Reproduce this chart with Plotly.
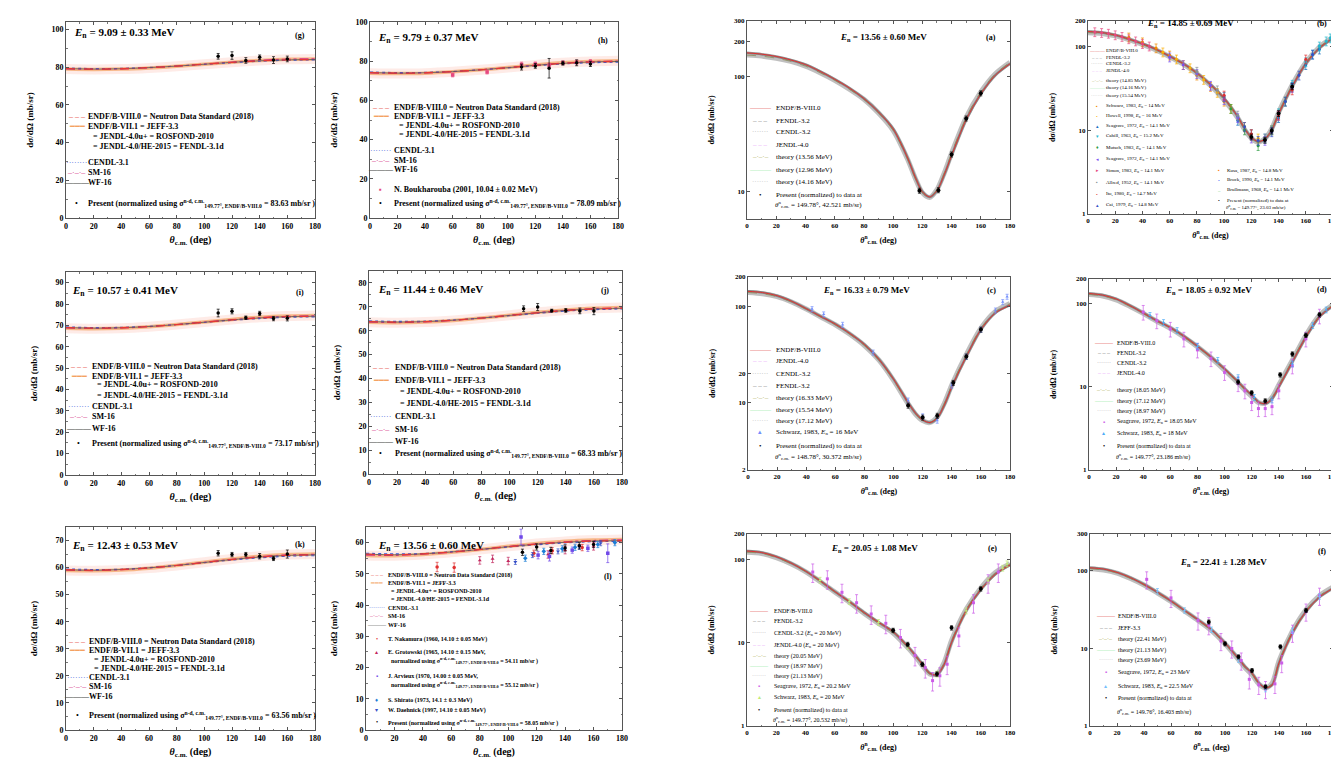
import math
import plotly.graph_objects as go

W, H = 1339, 759
SERIF = "Liberation Serif"

# ======================= DATA =======================
# ---- left panels (linear y) ----
th_l = [0, 20, 40, 60, 80, 100, 120, 140, 160, 180]
th_pres = [110, 120, 130, 140, 150, 160]

g_endf8 = [79.3, 79.0, 79.2, 79.8, 80.6, 81.6, 82.6, 83.4, 83.9, 84.1]
g_endf71 = [79.0, 78.8, 79.0, 79.6, 80.5, 81.6, 82.7, 83.6, 84.2, 84.4]
g_cendl = [79.6, 79.3, 79.4, 79.9, 80.6, 81.5, 82.4, 83.2, 83.7, 83.9]
g_sm16 = [79.1, 78.9, 79.1, 79.7, 80.6, 81.7, 82.8, 83.7, 84.3, 84.5]
g_pres = [85.8, 86.2, 83.6, 85.3, 83.8, 84.4]
g_perr = [1.5, 2.0, 1.5, 1.2, 1.8, 1.5]

h_endf8 = [74.2, 73.9, 74.1, 74.7, 75.6, 76.7, 77.9, 78.9, 79.6, 79.9]
h_endf71 = [73.9, 73.7, 73.9, 74.6, 75.6, 76.8, 78.1, 79.2, 79.9, 80.2]
h_cendl = [74.5, 74.2, 74.3, 74.8, 75.6, 76.6, 77.7, 78.6, 79.2, 79.5]
h_sm16 = [74.0, 73.8, 74.0, 74.6, 75.6, 76.8, 78.0, 79.1, 79.8, 80.1]
h_bouk_th = [60, 85, 110, 120, 130, 140, 150, 160]
h_bouk = [73.0, 74.5, 78.3, 78.6, 78.0, 79.2, 79.5, 79.8]
h_bouk_err = [1.0, 1.0, 1.2, 1.0, 1.0, 1.0, 1.0, 1.0]
h_pres = [77.0, 77.6, 76.4, 79.0, 79.2, 78.6]
h_perr = [1.5, 1.2, 5.0, 1.0, 1.5, 1.3]

i_endf8 = [69.0, 68.7, 68.9, 69.5, 70.4, 71.5, 72.6, 73.5, 74.1, 74.3]
i_endf71 = [68.7, 68.5, 68.7, 69.4, 70.4, 71.6, 72.8, 73.8, 74.4, 74.7]
i_cendl = [69.3, 69.0, 69.1, 69.6, 70.4, 71.4, 72.4, 73.2, 73.8, 74.0]
i_sm16 = [68.8, 68.6, 68.8, 69.4, 70.4, 71.6, 72.7, 73.7, 74.3, 74.5]
i_pres = [75.8, 76.6, 73.6, 75.6, 73.2, 73.3]
i_perr = [1.8, 1.2, 0.8, 1.0, 1.0, 1.2]

j_endf8 = [63.8, 63.6, 63.8, 64.4, 65.3, 66.4, 67.5, 68.5, 69.1, 69.4]
j_endf71 = [63.5, 63.3, 63.6, 64.3, 65.3, 66.5, 67.7, 68.7, 69.4, 69.7]
j_cendl = [64.1, 63.9, 64.0, 64.5, 65.3, 66.3, 67.3, 68.2, 68.8, 69.1]
j_sm16 = [63.6, 63.4, 63.7, 64.3, 65.3, 66.5, 67.6, 68.6, 69.3, 69.6]
j_pres = [69.2, 69.9, 68.4, 68.5, 68.3, 68.2]
j_perr = [1.2, 1.5, 0.6, 0.8, 1.2, 1.5]

k_endf8 = [59.2, 59.0, 59.3, 59.9, 60.8, 61.9, 63.0, 63.9, 64.5, 64.7]
k_endf71 = [58.9, 58.8, 59.1, 59.8, 60.8, 62.0, 63.2, 64.2, 64.8, 65.0]
k_cendl = [59.5, 59.3, 59.4, 60.0, 60.8, 61.8, 62.8, 63.6, 64.2, 64.4]
k_sm16 = [59.0, 58.9, 59.2, 59.8, 60.8, 62.0, 63.1, 64.1, 64.7, 64.9]
k_pres = [65.3, 64.8, 64.8, 64.2, 63.4, 65.0]
k_perr = [1.0, 0.8, 0.8, 1.0, 0.8, 1.5]

l_endf8 = [56.3, 56.1, 56.4, 57.0, 57.8, 58.7, 59.5, 60.1, 60.5, 60.6]
l_endf71 = [55.9, 55.8, 56.2, 56.9, 57.8, 58.8, 59.7, 60.4, 60.8, 61.0]
l_cendl = [56.6, 56.4, 56.5, 57.1, 57.8, 58.6, 59.3, 59.9, 60.3, 60.4]
l_sm16 = [56.0, 55.9, 56.3, 56.9, 57.8, 58.8, 59.6, 60.3, 60.7, 60.9]
l_naka_th = [50, 62, 118, 131, 152]
l_naka = [52.2, 52.0, 56.6, 57.4, 58.4]
l_naka_err = [1.5, 1.5, 1.0, 1.0, 1.0]
l_grot_th = [80, 89, 100, 128, 140, 160]
l_grot = [54.3, 54.8, 54.1, 56.2, 57.6, 58.8]
l_grot_err = [1.2, 1.2, 1.2, 1.2, 1.2, 1.2]
l_arv_th = [109, 121, 129, 145, 156, 170]
l_arv = [61.8, 56.0, 55.6, 57.6, 58.2, 56.6]
l_arv_err = [2.5, 1.2, 1.5, 1.0, 1.0, 3.0]
l_shir_th = [112, 125, 138, 147, 163, 175]
l_shir = [55.0, 57.2, 58.0, 58.5, 59.4, 60.0]
l_shir_err = [1.0, 1.0, 1.0, 1.0, 1.0, 1.0]
l_daeh_th = [105, 117, 135, 150, 165]
l_daeh = [53.8, 56.0, 57.2, 58.6, 59.8]
l_daeh_err = [0.8, 0.8, 0.8, 0.8, 0.8]
l_pres = [56.9, 58.6, 57.5, 58.3, 59.0, 59.4]
l_perr = [1.0, 1.0, 1.0, 1.0, 1.0, 1.0]

# ---- right panels (log y) ----
th_r = [0, 10, 20, 30, 40, 50, 60, 70, 80, 90, 100, 110, 115, 120, 125, 130, 135, 140, 150, 160, 170, 180]

a_endf8 = [159, 155, 148, 138, 126, 110, 94, 79, 64, 49, 35, 19.5, 13.5, 10.0, 9.0, 10.2, 14, 20.5, 42, 70, 102, 128]
a_theory = [152, 149, 143, 134, 122, 107, 92, 77, 63, 48, 34, 19, 13.2, 9.8, 8.9, 10.4, 14.5, 21.5, 44, 73, 105, 132]
a_pres_th = [118, 131, 140, 150, 160]
a_pres = [10.2, 10.3, 21, 43, 71]

b_endf8 = [150, 146, 136, 122, 107, 92, 76, 62, 48, 35, 24, 14.5, 10.5, 8.2, 7.3, 7.8, 10, 15.5, 33, 62, 95, 125]
b_theory = [145, 142, 133, 120, 105, 90, 75, 61, 47, 34, 23, 14, 10.2, 8.0, 7.2, 7.9, 10.4, 16.2, 34.5, 64, 98, 128]
b_e1_th = [30, 40, 50, 60, 70, 80, 90, 100]
b_e1 = [128, 112, 95, 78, 60, 45, 33, 22]
b_e2_th = [55, 65, 75, 85, 95, 105, 115, 125]
b_e2 = [85, 70, 55, 40, 28, 18, 11, 8]
b_e3_th = [100, 110, 120, 130, 140, 150, 160, 170]
b_e3 = [25, 13, 9, 8, 14, 33, 60, 92]
b_e4_th = [140, 150, 160, 165, 170, 175, 178]
b_e4 = [16, 35, 65, 80, 100, 115, 125]
b_e5_th = [105, 115, 125, 135, 145]
b_e5 = [18, 10, 6.5, 10, 22]
b_e6_th = [60, 70, 80, 90, 100, 110, 120, 130, 140, 150]
b_e6 = [74, 60, 47, 34, 23, 14, 8, 7.5, 15, 32]
b_e7_th = [5, 10, 15, 20, 25, 30, 35, 40, 45]
b_e7 = [148, 145, 142, 136, 130, 122, 115, 107, 100]
b_e8_th = [80, 95, 110, 120, 130, 135]
b_e8 = [50, 30, 15, 9, 8, 10]
b_e9_th = [100, 120, 140, 150, 160]
b_e9 = [26, 9, 15, 30, 70]
b_e10_th = [115, 125, 135, 145, 155, 165]
b_e10 = [11, 7.5, 9.5, 22, 45, 80]
b_pres_th = [120, 130, 135, 140, 150]
b_pres = [8.3, 7.6, 9.8, 15.8, 33]

c_endf8 = [142, 138, 128, 112, 94, 78, 65, 52, 40, 28, 17.5, 10, 7.8, 6.6, 6.2, 6.9, 9.5, 14.5, 30, 57, 85, 102]
c_theory = [138, 134, 125, 110, 93, 77, 64, 51, 39, 27.5, 17, 9.7, 7.6, 6.5, 6.2, 7.1, 9.9, 15.2, 31.5, 59, 88, 106]
c_schw_th = [44, 52, 65, 86, 110, 120, 130, 140, 150, 160, 170, 175, 178]
c_schw = [93, 82, 64, 33, 10.5, 7.2, 6.5, 15, 30, 57, 90, 110, 125]
c_pres_th = [110, 120, 130, 141, 150, 160]
c_pres = [9.3, 7.0, 7.3, 16, 30, 57]

d_endf8 = [134, 128, 115, 96, 78, 63, 52, 41, 31, 23, 16.5, 11.5, 9.5, 8.0, 6.6, 6.3, 7.2, 10, 20, 40, 70, 95]
d_theory = [130, 125, 112, 94, 77, 62, 51, 40, 30.5, 22.5, 16, 11.2, 9.2, 7.7, 6.5, 6.4, 7.5, 10.6, 21, 42, 73, 98]
d_seag_th = [40, 50, 60, 70, 80, 90, 100, 110, 115, 120, 125, 130, 135, 140, 150, 160, 170]
d_seag = [80, 63, 50, 38, 28, 22, 15, 11, 9, 6.5, 5.5, 5.5, 5.8, 9, 18, 38, 72]
d_schw_th = [45, 55, 65, 80, 95, 110, 122, 135, 150, 165, 175]
d_schw = [73, 60, 48, 31, 21, 13, 7.5, 7, 19, 55, 85]
d_pres_th = [110, 120, 130, 141, 150, 160, 170]
d_pres = [11.5, 8.5, 6.8, 14, 25, 42, 74]

e_endf8 = [125, 120, 107, 90, 72, 55, 41, 31, 23, 17.5, 13.5, 9, 7.1, 5.5, 4.3, 4.1, 5.5, 10, 24, 43, 66, 85]
e_theory = [121, 117, 104, 88, 71, 54, 40.5, 30.5, 22.5, 17, 13, 8.7, 6.9, 5.3, 4.2, 4.2, 5.8, 10.6, 25, 45, 69, 88]
e_seag_th = [45, 55, 65, 75, 85, 95, 105, 115, 122, 127, 132, 137, 145, 155, 165, 172]
e_seag = [70, 58, 40, 30, 22, 17, 11.5, 7, 5, 3.5, 4.0, 5.5, 12, 30, 52, 70]
e_schw_th = [50, 70, 90, 110, 130, 150, 165, 175, 178]
e_schw = [56, 31, 17.5, 9, 4.2, 24, 55, 78, 88]
e_pres_th = [100, 110, 120, 130, 140, 160]
e_pres = [14, 9.5, 5.5, 4.2, 15, 44]

f_endf8 = [110, 106, 96, 82, 67, 53, 41, 31, 23.5, 17.5, 11.8, 7.4, 5.8, 4.8, 3.6, 3.1, 3.4, 6.5, 16, 30, 46, 60]
f_theory = [107, 103, 94, 80, 66, 52, 40.5, 30.5, 23, 17, 11.5, 7.2, 5.6, 4.6, 3.5, 3.1, 3.6, 6.9, 16.8, 31.5, 48, 62]
f_seag_th = [42, 60, 80, 88, 97, 105, 112, 118, 125, 130, 137, 142, 150, 160, 170]
f_seag = [78, 45, 23, 20, 12.5, 10, 7, 4, 3.4, 3.0, 3.5, 6.5, 16, 30, 48]
f_schw_th = [50, 70, 90, 110, 130, 150, 170]
f_schw = [55, 31, 17.5, 7.2, 3.0, 17, 47]
f_pres_th = [88, 100, 110, 120, 130, 141, 160]
f_pres = [22, 11.5, 7.8, 5.2, 3.2, 10.5, 31]

x_ticks = [0, 20, 40, 60, 80, 100, 120, 140, 160, 180]

# ======================= FIGURE =======================
fig = go.Figure()


def fx(px):
    return px / W


def fy(py):
    return 1 - py / H


# panel boxes in pixels: (left, top, right, bottom)
boxes = {
    1: (58, 14, 307, 210), 2: (362, 14, 610, 210),
    3: (58, 264, 307, 467), 4: (361, 263, 614, 466),
    5: (58, 519, 307, 722), 6: (358, 519, 614, 722),
    7: (739, 13, 1002, 211), 8: (1080, 13, 1325, 206),
    9: (740, 269, 1002, 462), 10: (1081, 271, 1325, 462),
    11: (739, 526, 1002, 718), 12: (1082, 526, 1325, 718),
}
yr_lin = {1: (0, 104, 20), 2: (0, 100, 20), 3: (0, 95, 10), 4: (0, 85, 10), 5: (0, 75, 10), 6: (0, 65, 10)}
yr_log = {7: (5.8, 300, [10, 100, 200, 300]), 8: (1, 200, [1, 10, 100, 200]),
          9: (2, 200, [2, 10, 20, 100, 200]), 10: (1, 200, [1, 10, 100, 200]),
          11: (1, 200, [1, 10, 100, 200]), 12: (1, 300, [1, 10, 100, 300])}

layout = dict(width=W, height=H, margin=dict(l=0, r=0, t=0, b=0),
              paper_bgcolor="white", plot_bgcolor="white", showlegend=False)

for n, (l, t, r, b) in boxes.items():
    left = n <= 6
    tick_fs = 8 if left else 7
    xa = dict(domain=[fx(l), fx(r)], anchor=f"y{n}", range=[0, 180], tickvals=x_ticks,
              showline=True, mirror="allticks", linecolor="#555", linewidth=1,
              ticks="inside", ticklen=3, tickcolor="#555", showgrid=False, zeroline=False,
              minor=dict(ticks="inside", ticklen=1.5, dtick=10, tickcolor="#777"),
              tickfont=dict(family=SERIF, size=tick_fs, color="black", weight="bold"),
              automargin=False,
              title=dict(text=("<b><i>θ</i><sub>c.m.</sub> (deg)</b>" if left else
                               "<b><i>θ</i><sup>n</sup><sub>c.m.</sub> (deg)</b>"),
                         font=dict(family=SERIF, size=10 if left else 8, color="black"),
                         standoff=6 if left else 7))
    ya = dict(domain=[fy(b), fy(t)], anchor=f"x{n}",
              showline=True, mirror="allticks", linecolor="#555", linewidth=1,
              ticks="inside", ticklen=3, tickcolor="#555", showgrid=False, zeroline=False,
              tickfont=dict(family=SERIF, size=tick_fs, color="black", weight="bold"),
              automargin=False,
              title=dict(text="<b>dσ/dΩ (mb/sr)</b>",
                         font=dict(family=SERIF, size=9 if left else 8, color="black"),
                         standoff=16 if left else 18))
    if left:
        lo, hi, dt = yr_lin[n]
        ya.update(range=[lo, hi], dtick=dt, tick0=0,
                  minor=dict(ticks="inside", ticklen=1.5, dtick=dt / 2, tickcolor="#777"))
    else:
        lo, hi, tv = yr_log[n]
        ya.update(type="log", range=[math.log10(lo), math.log10(hi)], tickvals=tv,
                  ticktext=[str(v) for v in tv])
    layout[f"xaxis{'' if n == 1 else n}"] = xa
    layout[f"yaxis{'' if n == 1 else n}"] = ya

fig.update_layout(**layout)


def ax(n):
    return dict(xaxis=f"x{'' if n == 1 else n}", yaxis=f"y{'' if n == 1 else n}")


def line(n, x, y, color, width=1.2, dash="solid", shape="spline"):
    fig.add_trace(go.Scatter(x=x, y=y, mode="lines", line=dict(color=color, width=width, dash=dash,
                                                                 shape=shape, smoothing=0.8),
                             hoverinfo="skip", **ax(n)))


def pts(n, x, y, err=None, color="black", size=3.5, symbol="circle"):
    ey = dict(type="data", array=err, thickness=0.7, width=1.5, color=color) if err else None
    fig.add_trace(go.Scatter(x=x, y=y, mode="markers", marker=dict(color=color, size=size, symbol=symbol),
                             error_y=ey, hoverinfo="skip", **ax(n)))


# ---- left panels curves ----
left_sets = {
    1: (g_endf8, g_endf71, g_cendl, g_sm16, g_pres, g_perr),
    2: (h_endf8, h_endf71, h_cendl, h_sm16, h_pres, h_perr),
    3: (i_endf8, i_endf71, i_cendl, i_sm16, i_pres, i_perr),
    4: (j_endf8, j_endf71, j_cendl, j_sm16, j_pres, j_perr),
    5: (k_endf8, k_endf71, k_cendl, k_sm16, k_pres, k_perr),
    6: (l_endf8, l_endf71, l_cendl, l_sm16, l_pres, l_perr),
}
for n, (e8, e71, ce, sm, pr, pe) in left_sets.items():
    line(n, th_l, e71, "rgba(252,205,195,0.4)", width=10)
    line(n, th_l, e71, "rgba(245,170,110,0.8)", width=3.5)
    line(n, th_l, ce, "#3b5bdb", width=1.1, dash="dot")
    line(n, th_l, sm, "#d63384", width=1.1, dash="dashdot")
    line(n, th_l, e8, "#555555", width=0.8)
    line(n, th_l, e8, "#e53935", width=1.3, dash="dash")
    if n == 2:
        pts(2, h_bouk_th, h_bouk, h_bouk_err, color="#e64980", size=3.5, symbol="square")
    if n == 6:
        pts(6, l_naka_th, l_naka, l_naka_err, color="#e03131", size=3.5, symbol="circle")
        pts(6, l_grot_th, l_grot, l_grot_err, color="#c2255c", size=3.5, symbol="triangle-up")
        pts(6, l_arv_th, l_arv, l_arv_err, color="#7048e8", size=3.5, symbol="square")
        pts(6, l_shir_th, l_shir, l_shir_err, color="#1c7ed6", size=3.5, symbol="diamond")
        pts(6, l_daeh_th, l_daeh, l_daeh_err, color="#364fc7", size=3.5, symbol="triangle-down")
    pts(n, th_pres, pr, pe, color="black", size=3.5)

# ---- right panels curves ----
right_sets = {7: (a_endf8, a_theory), 8: (b_endf8, b_theory), 9: (c_endf8, c_theory),
              10: (d_endf8, d_theory), 11: (e_endf8, e_theory), 12: (f_endf8, f_theory)}
for n, (e8, thy) in right_sets.items():
    line(n, th_r, thy, "rgba(140,140,140,0.55)", width=5)
    line(n, th_r, e8, "rgba(110,110,110,0.7)", width=2.5)
    line(n, th_r, thy, "#8d8d5a", width=0.8, dash="dash")
    line(n, th_r, e8, "#e03131", width=1.0)

b_series = [(b_e1_th, b_e1, "#f08c00"), (b_e2_th, b_e2, "#fab005"), (b_e3_th, b_e3, "#1971c2"),
            (b_e4_th, b_e4, "#22b8cf"), (b_e5_th, b_e5, "#2f9e44"), (b_e6_th, b_e6, "#7950f2"),
            (b_e7_th, b_e7, "#e64980"), (b_e8_th, b_e8, "#868e96"), (b_e9_th, b_e9, "#e03131"),
            (b_e10_th, b_e10, "#364fc7")]
for xs, ys, col in b_series:
    pts(8, xs, ys, [v * 0.12 for v in ys], color=col, size=3)
pts(8, b_pres_th, b_pres, [v * 0.08 for v in b_pres], color="black", size=4)

pts(7, a_pres_th, a_pres, [v * 0.05 for v in a_pres], color="black", size=4)
pts(9, c_schw_th, c_schw, [v * 0.06 for v in c_schw], color="#748ffc", size=3, symbol="triangle-up")
pts(9, c_pres_th, c_pres, [v * 0.06 for v in c_pres], color="black", size=4)
pts(10, d_seag_th, d_seag, [v * 0.2 for v in d_seag], color="#cc5de8", size=3, symbol="square")
pts(10, d_schw_th, d_schw, [v * 0.08 for v in d_schw], color="#4dabf7", size=3, symbol="triangle-up")
pts(10, d_pres_th, d_pres, [v * 0.06 for v in d_pres], color="black", size=4)
pts(11, e_seag_th, e_seag, [v * 0.25 for v in e_seag], color="#cc5de8", size=3, symbol="square")
pts(11, e_schw_th, e_schw, [v * 0.08 for v in e_schw], color="#c0eb75", size=3, symbol="triangle-up")
pts(11, e_pres_th, e_pres, [v * 0.06 for v in e_pres], color="black", size=4)
pts(12, f_seag_th, f_seag, [v * 0.25 for v in f_seag], color="#cc5de8", size=3, symbol="square")
pts(12, f_schw_th, f_schw, [v * 0.08 for v in f_schw], color="#74c0fc", size=3, symbol="triangle-up")
pts(12, f_pres_th, f_pres, [v * 0.06 for v in f_pres], color="black", size=4)


# ======================= TEXT =======================
def note(px, py, text, fs, anchor="left", color="black"):
    fig.add_annotation(x=fx(px), y=fy(py), xref="paper", yref="paper", xanchor=anchor, yanchor="middle",
                       text=text, showarrow=False, font=dict(family=SERIF, size=fs, color=color))


# panel titles
titles_left = [
    (64, 25, "9.09 ± 0.33", 292, 27, "(g)"), (368, 30, "9.79 ± 0.37", 595, 33, "(h)"),
    (62, 283, "10.57 ± 0.41", 292, 284, "(i)"), (368, 282, "11.44 ± 0.46", 597, 282, "(j)"),
    (62, 538, "12.43 ± 0.53", 292, 536, "(k)"), (368, 538, "13.56 ± 0.60", 600, 568, "(l)"),
]
for x0, y0, en, xl, yl, lab in titles_left:
    note(x0, y0, f"<b><i>E</i><sub>n</sub> = {en} MeV</b>", 11)
    note(xl, yl, f"<b>{lab}</b>", 8, anchor="center")

titles_right = [
    (875, 29, "13.56 ± 0.60", 983, 29, "(a)"), (1182, 16, "14.85 ± 0.69", 1314, 16, "(b)"),
    (858, 283, "16.33 ± 0.79", 983, 282, "(c)"), (1200, 282, "18.05 ± 0.92", 1314, 281, "(d)"),
    (866, 540, "20.05 ± 1.08", 985, 540, "(e)"), (1215, 554, "22.41 ± 1.28", 1314, 543, "(f)"),
]
for xc, yc, en, xl, yl, lab in titles_right:
    note(xc, yc, f"<b><i>E</i><sub>n</sub> = {en} MeV</b>", 9, anchor="center")
    note(xl, yl, f"<b>{lab}</b>", 8, anchor="center")

# legend symbols: (glyph, colour)
S_E8 = ("– – –", "#e53935")
S_71 = ("━━━", "#f4a261")
S_CE = ("········", "#3b5bdb")
S_SM = ("–·–·–", "#d63384")
S_WF = ("———", "#444444")
S_PT = ("•", "black")


def legend_rows(sx, ys, rows, fs, sym_w, bold, indent):
    """rows: (symbol or None, text, continuation flag)"""
    for (sym, txt, cont), yy in zip(rows, ys):
        t = f"<b>{txt}</b>" if bold else txt
        if cont:
            note(sx + sym_w + indent, yy, t, fs)
        else:
            if sym is not None:
                note(sx + sym_w / 2, yy, sym[0], fs, anchor="center", color=sym[1])
            note(sx + sym_w + 1, yy, t, fs)


eval_lines = [
    (S_E8, "ENDF/B-VIII.0 = Neutron Data Standard (2018)", 0),
    (S_71, "ENDF/B-VII.1 = JEFF-3.3", 0),
    (None, "= JENDL-4.0u+ = ROSFOND-2010", 1),
    (None, "= JENDL-4.0/HE-2015 = FENDL-3.1d", 1),
    (S_CE, "CENDL-3.1", 0),
    (S_SM, "SM-16", 0),
    (S_WF, "WF-16", 0),
]


def sig(val):
    return (f"Present (normalized using σ<sup>n-d, c.m.</sup><sub>149.77°, ENDF/B-VIII.0</sub>"
            f" = {val} mb/sr )")


legend_rows(60, [108, 118, 128, 138, 155, 165, 175, 195], eval_lines + [(S_PT, sig("83.63"), 0)],
            8, 17, True, 6)
legend_rows(363, [99, 108, 117, 126, 143, 152, 161, 181, 195],
            eval_lines + [(("▪", "#e64980"), "N. Boukharouba (2001, 10.04 ± 0.02 MeV)", 0),
                          (S_PT, sig("78.09"), 0)], 8, 20, True, 6)
legend_rows(60, [358, 368, 377, 387, 398, 409, 420, 435], eval_lines + [(S_PT, sig("73.17"), 0)],
            8, 21, True, 6)
legend_rows(362, [360, 372, 383, 395, 408, 421, 433, 445], eval_lines + [(S_PT, sig("68.33"), 0)],
            8, 22, True, 6)
legend_rows(60, [633, 642, 651, 660, 669, 678, 688, 707], eval_lines + [(S_PT, sig("63.56"), 0)],
            8, 18, True, 6)
legend_rows(360, [567, 575, 583, 591, 600, 608, 617, 631, 644, 652, 668, 676, 692, 702, 714],
            eval_lines + [
                (("•", "#e03131"), "T. Nakamura (1960, 14.10 ± 0.05 MeV)", 0),
                (("▴", "#c2255c"), "E. Grotowski (1965, 14.10 ± 0.15 MeV,", 0),
                (None, "normalized using σ<sup>n-d, c.m.</sup><sub>149.77°, ENDF/B-VIII.0</sub> = 54.11 mb/sr )", 1),
                (("▪", "#7048e8"), "J. Arvieux (1970, 14.00 ± 0.05 MeV,", 0),
                (None, "normalized using σ<sup>n-d, c.m.</sup><sub>149.77°, ENDF/B-VIII.0</sub> = 55.12 mb/sr )", 1),
                (("♦", "#1c7ed6"), "S. Shirato (1973, 14.1 ± 0.3 MeV)", 0),
                (("▾", "#364fc7"), "W. Daehnick (1997, 14.10 ± 0.05 MeV)", 0),
                (S_PT, sig("58.05"), 0)], 6, 17, True, 4)

# ---- right legends ----
R_E8 = ("———", "#e03131")
R_FE = ("– – –", "#666666")
R_CE = ("·······", "#aaaaaa")
R_JE = ("– – –", "#e599f7")
R_T1 = ("–·–·–", "#a9a94a")
R_T2 = ("———", "#8ce99a")
R_T3 = ("·······", "#bbbbbb")


def pres_r(theta, val):
    return [(("•", "black"), "Present (normalized) to data at", 0),
            (None, f"<i>θ</i><sup>n</sup><sub>c.m.</sub> = {theta}°, {val} mb/sr)", 1)]


def ev(rows):
    return [(s, t, 0) for s, t in rows]


legend_rows(739, [100, 113, 124, 137, 149, 162, 174, 187, 196],
            ev([(R_E8, "ENDF/B-VIII.0"), (R_FE, "FENDL-3.2"), (R_CE, "CENDL-3.2"), (R_JE, "JENDL-4.0"),
                (R_T1, "theory (13.56 MeV)"), (R_T2, "theory (12.96 MeV)"), (R_T3, "theory (14.16 MeV)")])
            + pres_r("149.78", "42.521"), 7, 26, False, 0)

b_rows = [(R_E8, "ENDF/B-VIII.0"), (R_FE, "FENDL-3.2"), (R_CE, "CENDL-3.2"), (R_JE, "JENDL-4.0"),
          (R_T1, "theory (14.85 MeV)"), (R_T2, "theory (14.16 MeV)"), (R_T3, "theory (15.54 MeV)"),
          (("▪", "#f08c00"), "Schwarz, 1983, <i>E</i><sub>n</sub> = 14 MeV"),
          (("•", "#fab005"), "Howell, 1998, <i>E</i><sub>n</sub> = 16 MeV"),
          (("▴", "#1971c2"), "Seagrave, 1972, <i>E</i><sub>n</sub> = 14.1 MeV"),
          (("▾", "#22b8cf"), "Cahill, 1963, <i>E</i><sub>n</sub> = 15.2 MeV"),
          (("♦", "#2f9e44"), "Mutsch, 1983, <i>E</i><sub>n</sub> = 14.1 MeV"),
          (("◂", "#7950f2"), "Seagrave, 1972, <i>E</i><sub>n</sub> = 14.1 MeV"),
          (("▸", "#e64980"), "Simon, 1983, <i>E</i><sub>n</sub> = 14.1 MeV"),
          (("▪", "#868e96"), "Allred, 1952, <i>E</i><sub>n</sub> = 14.1 MeV"),
          (("•", "#e03131"), "Ito, 1980, <i>E</i><sub>n</sub> = 14.7 MeV"),
          (("▴", "#364fc7"), "Cai, 1979, <i>E</i><sub>n</sub> = 14.8 MeV")]
legend_rows(1083, [43, 49.5, 56, 62.5, 72, 80, 88, 98, 108, 118, 128, 140, 151, 163, 175, 186, 197],
            ev(b_rows), 5, 12, False, 0)
legend_rows(1206, [163, 172, 182, 192, 200],
            ev([(("▪", "#fd7e14"), "Kusa, 1987, <i>E</i><sub>n</sub> = 14.8 MeV"),
                (("•", "#4c6ef5"), "Brock, 1990, <i>E</i><sub>n</sub> = 14.1 MeV"),
                (("–", "#40c057"), "Brullmann, 1968, <i>E</i><sub>n</sub> = 14.1 MeV")])
            + pres_r("149.77", "23.03"), 5, 10, False, 0)

legend_rows(740, [342, 353, 366, 378, 390, 402, 413, 424, 438, 449],
            ev([(R_E8, "ENDF/B-VIII.0"), (R_JE, "JENDL-4.0"), (R_CE, "CENDL-3.2"), (R_FE, "FENDL-3.2"),
                (R_T1, "theory (16.33 MeV)"), (R_T2, "theory (15.54 MeV)"), (R_T3, "theory (17.12 MeV)"),
                (("▴", "#748ffc"), "Schwarz, 1983, <i>E</i><sub>n</sub> = 16 MeV")])
            + pres_r("148.78", "30.372"), 7, 25, False, 0)

legend_rows(1085, [335, 345, 355, 365, 382, 393, 403, 414, 425, 438, 449],
            ev([(R_E8, "ENDF/B-VIII.0"), (R_FE, "FENDL-3.2"), (R_CE, "CENDL-3.2"), (R_JE, "JENDL-4.0"),
                (R_T1, "theory (18.05 MeV)"), (R_T2, "theory (17.12 MeV)"), (R_T3, "theory (18.97 MeV)"),
                (("▪", "#cc5de8"), "Seagrave, 1972, <i>E</i><sub>n</sub> = 18.05 MeV"),
                (("▴", "#4dabf7"), "Schwarz, 1983, <i>E</i><sub>n</sub> = 18 MeV")])
            + pres_r("149.77", "23.186"), 6, 21, False, 0)

legend_rows(739, [603, 613, 625, 637, 648, 658, 668, 678, 689, 702, 711],
            ev([(R_E8, "ENDF/B-VIII.0"), (R_FE, "FENDL-3.2"),
                (R_CE, "CENDL-3.2 (<i>E</i><sub>n</sub> = 20 MeV)"), (R_JE, "JENDL-4.0 (<i>E</i><sub>n</sub> = 20 MeV)"),
                (R_T1, "theory (20.05 MeV)"), (R_T2, "theory (18.97 MeV)"), (R_T3, "theory (21.13 MeV)"),
                (("▪", "#cc5de8"), "Seagrave, 1972, <i>E</i><sub>n</sub> = 20.2 MeV"),
                (("▴", "#c0eb75"), "Schwarz, 1983, <i>E</i><sub>n</sub> = 20 MeV")])
            + pres_r("149.77", "20.532"), 6, 24, False, 0)

legend_rows(1088, [608, 620, 631, 642, 652, 664, 678, 690, 703],
            ev([(R_E8, "ENDF/B-VIII.0"), (R_FE, "JEFF-3.3"),
                (R_T1, "theory (22.41 MeV)"), (R_T2, "theory (21.13 MeV)"), (R_T3, "theory (23.69 MeV)"),
                (("▪", "#cc5de8"), "Seagrave, 1972, <i>E</i><sub>n</sub> = 23 MeV"),
                (("▴", "#74c0fc"), "Schwarz, 1983, <i>E</i><sub>n</sub> = 22.5 MeV")])
            + pres_r("149.76", "16.403"), 6, 19, False, 0)

fig.write_html("out.html")
